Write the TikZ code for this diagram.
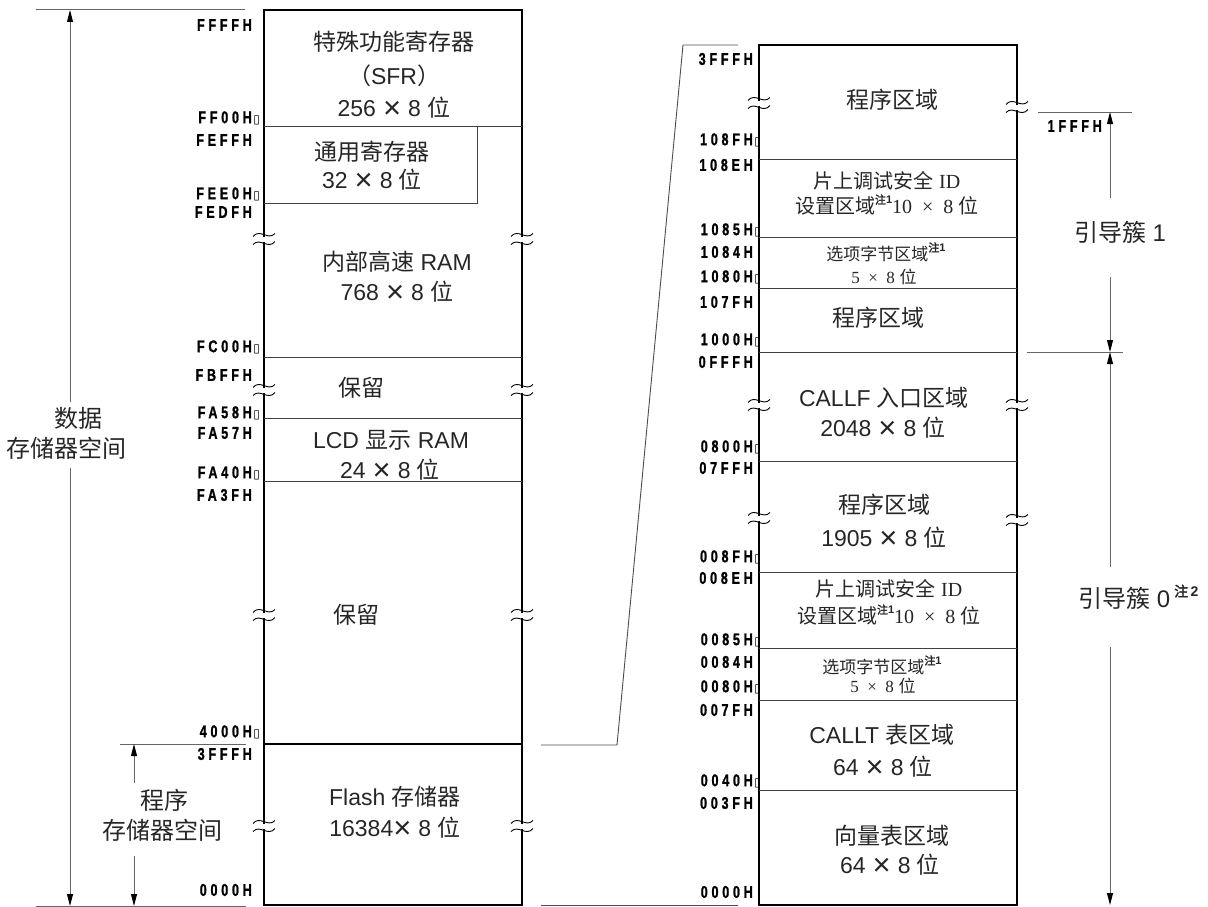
\documentclass[tikz,border=0pt]{standalone}
\usepackage{fontspec}
\setmainfont{Liberation Sans}
\newfontfamily\cjk{Noto Sans CJK SC}
\newfontfamily\cjkb{Noto Sans CJK SC}[FakeBold=2.5]
\newfontfamily\lserif{Liberation Serif}
\newfontfamily\addrfont{Liberation Sans}[FakeStretch=0.74,LetterSpace=22,FakeBold=1.2]
\newfontfamily\dejavu{DejaVu Sans}
\usetikzlibrary{arrows.meta}
\newcommand\zhu[1]{\raisebox{0.5em}{\fontsize{11}{11}\selectfont{\cjkb 注}\textbf{#1}}}
\newcommand\zhuL[1]{\raisebox{0.45em}{\fontsize{14}{14}\selectfont{\cjkb 注}\,\textbf{#1}}}
\newcommand\gap{\rlap{\hspace{1.5pt}{\dejavu\fontsize{12}{12}\selectfont ▯}}}
\newcommand\wei{{\cjk 位}}
\newcommand\tms{\hspace{7pt}\raisebox{-2pt}{\fontsize{31}{31}\selectfont ×}\hspace{7pt}}
\tikzset{
  boxline/.style={line width=2pt,draw=black},
  divline/.style={line width=1pt,draw=black!75},
  annline/.style={line width=1pt,draw=black!60},
  arr/.style={annline,-{Triangle[length=12pt,width=6pt,black]}},
  addr/.style={anchor=east,inner sep=0pt,font=\addrfont\bfseries\fontsize{17}{17}\selectfont},
  lbl/.style={inner sep=0pt,text=black!85,font=\fontsize{23}{27}\selectfont},
  side/.style={inner sep=0pt,text=black!85,font=\fontsize{24}{28}\selectfont},
  slbl/.style={inner sep=0pt,text=black!85,font=\fontsize{20}{24}\selectfont},
  tlbl/.style={inner sep=0pt,text=black!85,font=\fontsize{17}{20}\selectfont},
  brk/.pic={
    \fill[white] (-2,-2.5) rectangle (2,2.5);
    \draw[line width=0.9pt] (-11,-2.5) .. controls (-4,-11) and (4,2) .. (11,-5.5);
    \draw[line width=0.9pt] (-11,5.5) .. controls (-4,-2) and (4,11) .. (11,2.5);
  }
}
\begin{document}
\begin{tikzpicture}[x=1pt,y=-1pt]
\useasboundingbox (0,0) rectangle (1208,907);

% ---------- left box ----------
\draw[boxline] (264,10) rectangle (522,905);
\draw[divline] (264,126) -- (522,126);
\draw[divline] (477,126) -- (477,203) -- (264,203);
\draw[divline] (264,357) -- (522,357);
\draw[divline] (264,418) -- (522,418);
\draw[divline] (264,481) -- (522,481);
\draw[line width=1.5pt] (264,744) -- (522,744);
\foreach \yy in {239,390,615,826} {
  \pic at (264,\yy) {brk};
  \pic at (522,\yy) {brk};
}

\node[lbl] (sfrA) at (394,42) {\cjk 特殊功能寄存器};
\node[lbl] (sfrB) at (394,76) {{\cjk （}SFR{\cjk ）}};
\node[lbl] (sfrC) at (394,108) {256\tms 8 \wei};
\node[lbl] (gprA) at (372,152) {\cjk 通用寄存器};
\node[lbl] (gprB) at (372,180) {32\tms 8 \wei};
\node[lbl] (ramA) at (397,262) {{\cjk 内部高速} RAM};
\node[lbl] (ramB) at (397,292) {768\tms 8 \wei};
\node[lbl] (rsvA) at (361,388) {\cjk 保留};
\node[lbl] (lcdA) at (391,440) {LCD {\cjk 显示} RAM};
\node[lbl] (lcdB) at (390,470) {24\tms 8 \wei};
\node[lbl] (rsvB) at (356,615) {\cjk 保留};
\node[lbl] (flA) at (395,797) {Flash {\cjk 存储器}};
\node[lbl] (flB) at (395,828) {16384\raisebox{-2pt}{\fontsize{31}{31}\selectfont ×}\hspace{7pt}8 \wei};

% left addresses
\node[addr] (a1) at (252,25) {FFFFH};
\node[addr] (a2) at (252,118) {FF00H\gap};
\node[addr] (a3) at (252,140) {FEFFH};
\node[addr] (a4) at (252,194) {FEE0H\gap};
\node[addr] (a5) at (252,212) {FEDFH};
\node[addr] (a6) at (252,347) {FC00H\gap};
\node[addr] (a7) at (252,375) {FBFFH};
\node[addr] (a8) at (252,413) {FA58H\gap};
\node[addr] (a9) at (252,433) {FA57H};
\node[addr] (a10) at (252,473) {FA40H\gap};
\node[addr] (a11) at (252,495) {FA3FH};
\node[addr] (a12) at (252,732) {4000H\gap};
\node[addr] (a13) at (252,754) {3FFFH};
\node[addr] (a14) at (252,890) {0000H};

% left annotations
\draw[annline] (36,10) -- (245,10);
\draw[annline] (36,906) -- (246,906);
\draw[annline] (120,744) -- (246,744);
\coordinate (dT) at (70,10);
\coordinate (dTs) at (70,402);
\coordinate (dBs) at (70,468);
\coordinate (dB) at (70,906);
\draw[arr] (dTs) -- (dT);
\draw[arr] (dBs) -- (dB);
\node[side] (dsA) at (78,418) {\cjk 数据};
\node[side] (dsB) at (66,448) {\cjk 存储器空间};
\coordinate (pT) at (134,744);
\coordinate (pTs) at (134,783);
\coordinate (pBs) at (134,856);
\coordinate (pB) at (134,906);
\draw[arr] (pTs) -- (pT);
\draw[arr] (pBs) -- (pB);
\node[side] (psA) at (164,800) {\cjk 程序};
\node[side] (psB) at (162,830) {\cjk 存储器空间};

% connectors between maps
\coordinate (c1) at (541,745);
\coordinate (c2) at (617,745);
\coordinate (c3) at (683,45);
\coordinate (c4) at (738,45);
\coordinate (c5) at (541,905);
\coordinate (c6) at (738,905);
\draw[line width=0.9pt,black!70] (c1) -- (c2) -- (c3) -- (c4);
\draw[line width=0.9pt,black!70] (c5) -- (c6);

% ---------- right box ----------
\draw[boxline] (759,45) rectangle (1017,905);
\foreach \yy in {159,237,288,352,461,572,648,700,790} {
  \draw[divline] (759,\yy) -- (1017,\yy);
}
\pic at (759,103) {brk};
\pic at (1017,107) {brk};
\pic at (759,405) {brk};
\pic at (1017,405) {brk};
\pic at (759,518) {brk};
\pic at (1017,520) {brk};

\node[lbl] (p1) at (892,100) {\cjk 程序区域};
\node[slbl] (idA) at (887,181) {{\cjk 片上调试安全} {\lserif ID}};
\node[slbl] (idB) at (887,205) {{\cjk 设置区域}\zhu{1}{\lserif 10\ \ ×\ \ 8} \wei};
\node[tlbl] (obA) at (886,252) {{\cjk 选项字节区域}\zhu{1}};
\node[tlbl] (obB) at (884,277) {{\lserif 5\ \ ×\ \ 8} \wei};
\node[lbl] (p2) at (878,318) {\cjk 程序区域};
\node[lbl] (cfA) at (884,398) {CALLF {\cjk 入口区域}};
\node[lbl] (cfB) at (883,428) {2048\tms 8 \wei};
\node[lbl] (p3A) at (884,505) {\cjk 程序区域};
\node[lbl] (p3B) at (884,538) {1905\tms 8 \wei};
\node[slbl] (id2A) at (889,589) {{\cjk 片上调试安全} {\lserif ID}};
\node[slbl] (id2B) at (889,615) {{\cjk 设置区域}\zhu{1}{\lserif 10\ \ ×\ \ 8} \wei};
\node[tlbl] (ob2A) at (882,665) {{\cjk 选项字节区域}\zhu{1}};
\node[tlbl] (ob2B) at (883,686) {{\lserif 5\ \ ×\ \ 8} \wei};
\node[lbl] (ctA) at (882,735) {CALLT {\cjk 表区域}};
\node[lbl] (ctB) at (883,767) {64\tms 8 \wei};
\node[lbl] (vtA) at (892,836) {\cjk 向量表区域};
\node[lbl] (vtB) at (890,865) {64\tms 8 \wei};

% right addresses
\node[addr] (b1) at (753,59) {3FFFH};
\node[addr] (b2) at (753,140) {108FH\gap};
\node[addr] (b3) at (753,165) {108EH};
\node[addr] (b4) at (753,230) {1085H\gap};
\node[addr] (b5) at (753,252) {1084H};
\node[addr] (b6) at (753,277) {1080H\gap};
\node[addr] (b7) at (753,302) {107FH};
\node[addr] (b8) at (753,340) {1000H\gap};
\node[addr] (b9) at (753,362) {0FFFH};
\node[addr] (b10) at (753,447) {0800H\gap};
\node[addr] (b11) at (753,468) {07FFH};
\node[addr] (b12) at (753,557) {008FH\gap};
\node[addr] (b13) at (753,578) {008EH};
\node[addr] (b14) at (753,640) {0085H\gap};
\node[addr] (b15) at (753,662) {0084H};
\node[addr] (b16) at (753,687) {0080H\gap};
\node[addr] (b17) at (753,710) {007FH};
\node[addr] (b18) at (753,781) {0040H\gap};
\node[addr] (b19) at (753,803) {003FH};
\node[addr] (b20) at (753,892) {0000H};

% right annotations
\draw[annline] (1038,112) -- (1132,112);
\draw[annline] (1027,352) -- (1123,352);
\node[addr] (bt) at (1102,126) {1FFFH};
\coordinate (r1T) at (1110,112);
\coordinate (r1Ts) at (1110,198);
\coordinate (r1Bs) at (1110,277);
\coordinate (r1B) at (1110,352);
\draw[arr] (r1Ts) -- (r1T);
\draw[arr] (r1Bs) -- (r1B);
\node[side] (bc1) at (1120,232) {{\cjk 引导簇} 1};
\coordinate (r0Ts) at (1110,567);
\coordinate (r0Bs) at (1110,647);
\coordinate (r0B) at (1110,905);
\draw[arr] (r0Ts) -- (r1B);
\draw[arr] (r0Bs) -- (r0B);
\node[side,anchor=west] (bc0) at (1078,597) {{\cjk 引导簇} 0\,\zhuL{2}};
\end{tikzpicture}
\end{document}
